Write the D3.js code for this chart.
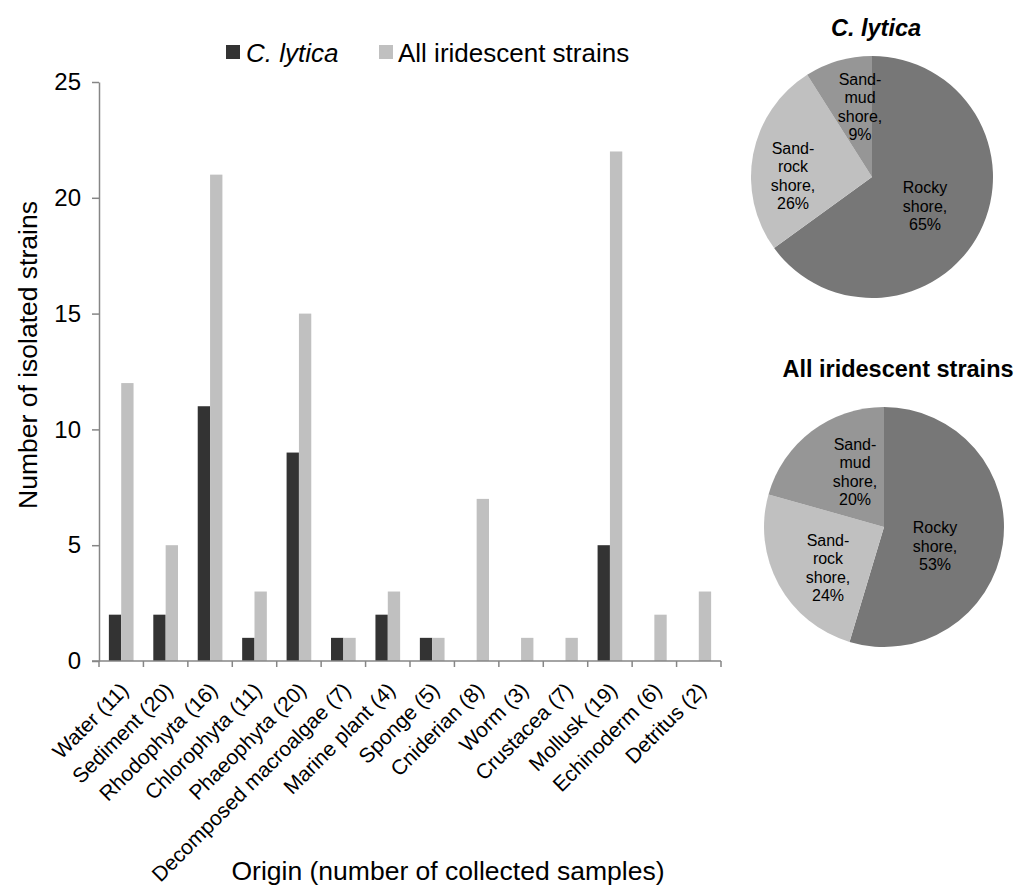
<!DOCTYPE html>
<html>
<head>
<meta charset="utf-8">
<script src="https://cdn.jsdelivr.net/npm/d3@7"></script>
<style>
  html, body { margin: 0; padding: 0; background: #ffffff; }
  svg { display: block; font-family: "Liberation Sans", Arial, sans-serif; }
</style>
</head>
<body>
<svg id="chart" width="1021" height="890"></svg>
<script>
// ---- Data ----
const categories = ["Water (11)", "Sediment (20)", "Rhodophyta (16)", "Chlorophyta (11)",
  "Phaeophyta (20)", "Decomposed macroalgae (7)", "Marine plant (4)", "Sponge (5)",
  "Cniderian (8)", "Worm (3)", "Crustacea (7)", "Mollusk (19)", "Echinoderm (6)", "Detritus (2)"];
const seriesNames = ["C. lytica", "All iridescent strains"];
const cLytica = [2, 2, 11, 1, 9, 1, 2, 1, 0, 0, 0, 5, 0, 0];
const allIridescent = [12, 5, 21, 3, 15, 1, 3, 1, 7, 1, 1, 22, 2, 3];
const yTicks = [0, 5, 10, 15, 20, 25];

const pieLabels = ["Rocky shore", "Sand-rock shore", "Sand-mud shore"];
const pieLinesText = [["Rocky", "shore,"], ["Sand-", "rock", "shore,"], ["Sand-", "mud", "shore,"]];
const pieCLytica = [65, 26, 9];
const pieAll = [53, 24, 20];

const barColors = ["#333333", "#c0c0c0"];
const pieColors = ["#777777", "#c0c0c0", "#969696"];
const axisColor = "#868686";

const svg = d3.select("#chart");
svg.append("rect").attr("width", 1021).attr("height", 890).attr("fill", "#fff");

// ---- Bar chart ----
const x = d3.scaleBand().domain(categories).range([99, 721]).padding(0);
const xSub = d3.scaleBand().domain(seriesNames).range([0, x.bandwidth()])
  .paddingInner(0).paddingOuter(0.8);
const y = d3.scaleLinear().domain([0, 25]).range([661, 82]);

const rows = categories.map((c, i) => ({ cat: c, vals: [cLytica[i], allIridescent[i]] }));

const g = svg.append("g");
g.selectAll("g.grp").data(rows).join("g")
  .attr("class", "grp")
  .attr("transform", d => `translate(${x(d.cat)},0)`)
  .selectAll("rect").data(d => d.vals.map((v, k) => ({ v, k })))
  .join("rect")
  .attr("x", d => xSub(seriesNames[d.k]))
  .attr("width", xSub.bandwidth())
  .attr("y", d => y(d.v))
  .attr("height", d => y(0) - y(d.v))
  .attr("fill", d => barColors[d.k]);

// Y axis
const yAxis = g.append("g").attr("transform", "translate(99,0)")
  .call(d3.axisLeft(y).tickValues(yTicks).tickSize(7).tickSizeOuter(0).tickPadding(11));
yAxis.select(".domain").attr("stroke", axisColor).attr("stroke-width", 1.5);
yAxis.selectAll(".tick line").attr("stroke", axisColor).attr("stroke-width", 1.5);
yAxis.selectAll(".tick text").attr("font-size", 24).attr("fill", "#000")
  .attr("font-family", "Liberation Sans, Arial, sans-serif");

// X axis
const xAxisG = g.append("g").attr("transform", "translate(0,661)");
xAxisG.append("line").attr("x1", 92).attr("x2", 721).attr("y1", 0).attr("y2", 0)
  .attr("stroke", axisColor).attr("stroke-width", 1.5);
const xTickPos = categories.map(c => x(c)).concat([x.range()[1]]);
xAxisG.selectAll("line.tk").data(xTickPos).join("line").attr("class", "tk")
  .attr("x1", d => d).attr("x2", d => d).attr("y1", 0).attr("y2", 6)
  .attr("stroke", axisColor).attr("stroke-width", 1.5);
xAxisG.selectAll("text.xl").data(categories).join("text").attr("class", "xl")
  .attr("transform", d => `translate(${x(d) + x.bandwidth() / 2 - 2},${20}) rotate(-45)`)
  .attr("text-anchor", "end")
  .attr("dy", "0.71em")
  .attr("font-size", 21)
  .attr("fill", "#000")
  .text(d => d);

// Axis titles
svg.append("text").attr("transform", "translate(37,355) rotate(-90)")
  .attr("text-anchor", "middle").attr("font-size", 26.5).attr("fill", "#000")
  .text("Number of isolated strains");
svg.append("text").attr("x", 448).attr("y", 880)
  .attr("text-anchor", "middle").attr("font-size", 26.5).attr("fill", "#000")
  .text("Origin (number of collected samples)");

// Legend
const legendPos = [{ x: 226, tx: 246 }, { x: 379, tx: 398 }];
const leg = svg.append("g");
seriesNames.forEach((s, i) => {
  leg.append("rect").attr("x", legendPos[i].x).attr("y", 45).attr("width", 14).attr("height", 14)
    .attr("fill", barColors[i]);
  leg.append("text").attr("x", legendPos[i].tx).attr("y", 62)
    .attr("font-size", 26).attr("fill", "#000")
    .attr("font-style", i === 0 ? "italic" : "normal")
    .text(s);
});

// ---- Pies ----
function drawPie(cx, cy, r, values, title, titleX, titleY, titleItalic, labelPos, pctText) {
  const pg = svg.append("g").attr("transform", `translate(${cx},${cy})`);
  const pie = d3.pie().sort(null).value(d => d)(values);
  const arc = d3.arc().innerRadius(0).outerRadius(r);
  pg.selectAll("path").data(pie).join("path")
    .attr("d", arc).attr("fill", (d, i) => pieColors[i])
    .attr("stroke", "none");
  svg.append("text").attr("x", titleX).attr("y", titleY)
    .attr("text-anchor", "middle").attr("font-size", 23.5).attr("font-weight", "bold")
    .attr("font-style", titleItalic ? "italic" : "normal").attr("fill", "#000")
    .text(title);
  pie.forEach((d, i) => {
    const lines = pieLinesText[i].concat([pctText[i]]);
    const t = svg.append("text").attr("text-anchor", "middle")
      .attr("font-size", 16).attr("fill", "#000");
    const lh = 18.5;
    const y0 = labelPos[i][1] - (lines.length - 1) * lh / 2;
    lines.forEach((ln, j) => {
      t.append("tspan").attr("x", labelPos[i][0]).attr("y", y0 + j * lh).attr("dy", "0.35em").text(ln);
    });
  });
}

drawPie(872, 177, 121, pieCLytica, "C. lytica", 876, 36, true,
  [[925, 206], [793, 176], [860, 107]], pieCLytica.map(v => v + "%"));
drawPie(884, 527, 120, pieAll, "All iridescent strains", 898, 377, false,
  [[935, 546], [828, 568], [855, 472]], pieAll.map(v => v + "%"));
</script>
</body>
</html>
